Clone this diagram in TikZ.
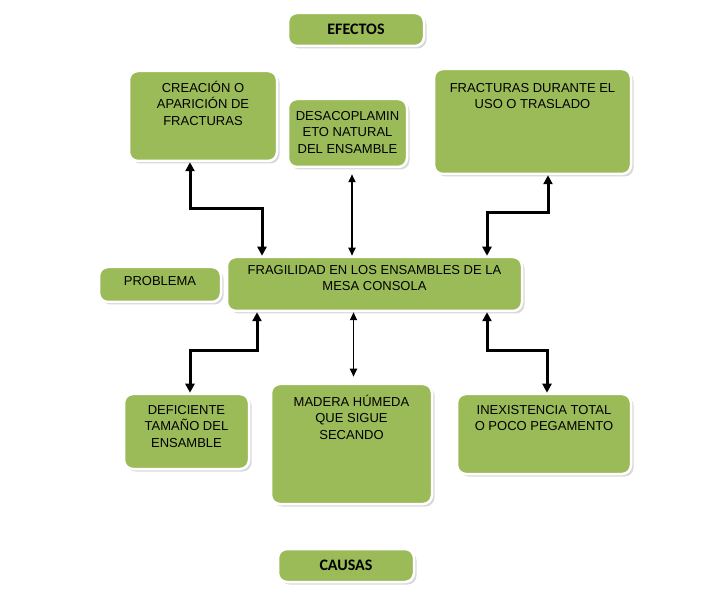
\documentclass[tikz,border=0pt]{standalone}
\usepackage{fontspec}
\setmainfont{Liberation Sans}
\newfontfamily\calibri{Carlito}
\usetikzlibrary{arrows.meta,positioning,shadows}
\definecolor{verde}{HTML}{9BBB59}
\tikzset{
  caja/.style    = {draw=white, line width=2.5pt, fill=verde, rounded corners=9pt,
                    drop shadow={shadow xshift=2.5pt, shadow yshift=-2.5pt, fill=black!30, opacity=.5}},
  txt/.style     = {align=center, inner sep=0pt, font=\fontsize{13}{16.7}\selectfont,
                    execute at begin node=\strut},
  titulo/.style  = {font=\calibri\bfseries\fontsize{16}{19}\selectfont},
  flecha/.style  = {{Triangle[length=9pt,width=9pt]}-{Triangle[length=9pt,width=9pt]}, line width=3pt},
  fina/.style    = {{Triangle[length=8pt,width=7pt]}-{Triangle[length=8pt,width=7pt]}, line width=1.8pt},
}

\begin{document}
\begin{tikzpicture}[x=1pt,y=-1pt]
    \useasboundingbox (0,0) rectangle (710,612);
    % efectos
    \node[caja,titulo,minimum width=136pt,minimum height=33pt] (efectos) at (356,29.5) {EFECTOS};
    \node[caja,minimum width=148pt,minimum height=90pt] (creacion) at (203,116) {};
    \node[caja,minimum width=119pt,minimum height=68pt] (desacop) at (347.5,133) {};
    \node[caja,minimum width=197pt,minimum height=105pt] (fracturas) at (532.5,121.5) {};
    \node[txt,below=11pt of creacion.north] {CREACIÓN O\\APARICIÓN DE\\FRACTURAS};
    \node[txt,below=13pt of desacop.north] {DESACOPLAMIN\\ETO NATURAL\\DEL ENSAMBLE};
    \node[txt,below=15pt of fracturas.north] {FRACTURAS DURANTE EL\\USO O TRASLADO};
    % problema
    \node[caja,minimum width=122pt,minimum height=35pt] (problema) at (160,284.5) {};
    \node[caja,minimum width=295pt,minimum height=54pt] (fragilidad) at (374.5,284) {};
    \node[txt,below=8pt of problema.north] {PROBLEMA};
    \node[txt,below=9pt of fragilidad.north] {FRAGILIDAD EN LOS ENSAMBLES DE LA\\MESA CONSOLA};
    % causas
    \node[caja,minimum width=125pt,minimum height=75pt] (deficiente) at (186.5,431.5) {};
    \node[caja,minimum width=161pt,minimum height=120pt] (madera) at (351.5,444) {};
    \node[caja,minimum width=174pt,minimum height=80pt] (inexist) at (544,434) {};
    \node[txt,below=12pt of deficiente.north] {DEFICIENTE\\TAMAÑO DEL\\ENSAMBLE};
    \node[txt,below=12pt of madera.north] {MADERA HÚMEDA\\QUE SIGUE\\SECANDO};
    \node[txt,below=12pt of inexist.north] {INEXISTENCIA TOTAL\\O POCO PEGAMENTO};
    \node[caja,titulo,minimum width=136pt,minimum height=33pt] (causas) at (346,565.5) {CAUSAS};
    % flechas
    \draw[flecha] ([xshift=-13pt]creacion.south) -- ++(0,46) -| ([xshift=-112.5pt]fragilidad.north);
    \draw[fina,shorten <=6pt] ([xshift=4.5pt]desacop.south) -- ([xshift=4.5pt]desacop.south |- fragilidad.north);
    \draw[flecha] ([xshift=15.5pt]fracturas.south) -- ++(0,37) -| ([xshift=112.5pt]fragilidad.north);
    \draw[flecha] ([xshift=-117.5pt]fragilidad.south) -- ++(0,38) -| ([xshift=3.5pt]deficiente.north);
    \draw[fina,shorten >=6pt] ([xshift=-21pt]fragilidad.south) -- ([xshift=-21pt]fragilidad.south |- madera.north);
    \draw[flecha] ([xshift=112.5pt]fragilidad.south) -- ++(0,38) -| ([xshift=3pt]inexist.north);
  \end{tikzpicture}
\end{document}
